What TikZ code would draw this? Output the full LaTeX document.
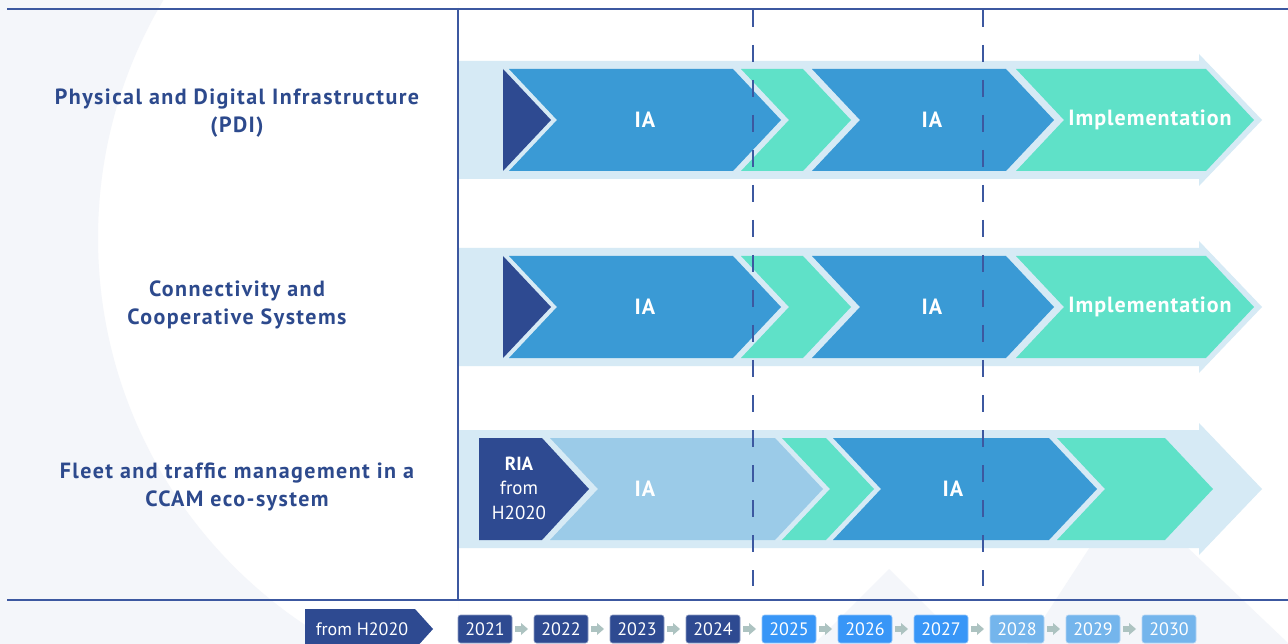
\documentclass[tikz,border=0pt]{standalone}
\usepackage{fontspec}
\setmainfont{PT Sans}
\definecolor{navy}{HTML}{2E4A91}
\definecolor{iablue}{HTML}{3A9AD5}
\definecolor{mint}{HTML}{5FE1C8}
\definecolor{band}{HTML}{D6EAF5}
\definecolor{ialight}{HTML}{9BCBE8}
\definecolor{titlec}{HTML}{2D4A8D}
\definecolor{axis}{HTML}{3C58A0}
\definecolor{ybright}{HTML}{3896F7}
\definecolor{ypale}{HTML}{74B5EC}
\definecolor{garrow}{HTML}{ADC3C1}
\definecolor{bgc}{HTML}{F4F6FA}
\newcommand\mychev[5]{\fill[#5] (#1,#4-51) -- (#2,#4-51) -- (#2+48,#4) -- (#2,#4+51) -- (#1,#4+51) -- (#1+48,#4) -- cycle;}
\newcommand\myband[1]{\fill[band] (458,#1-59) -- (1199,#1-59) -- (1199,#1-66) -- (1262,#1) -- (1199,#1+66) -- (1199,#1+59) -- (458,#1+59) -- cycle;}
\begin{document}
\begin{tikzpicture}[x=1pt,y=-1pt,
  lbl/.style={text=white,font=\bfseries\fontsize{22}{24}\selectfont\addfontfeature{LetterSpace=4.5},inner sep=0pt},
  ttl/.style={text=titlec,font=\bfseries\fontsize{22}{28}\selectfont\addfontfeature{LetterSpace=6.5},align=center},
  yr/.style={minimum width=54pt,minimum height=28pt,rounded corners=2.5pt,inner sep=0pt,text=white,font=\fontsize{18}{20}\selectfont,draw=#1!55!white,fill=#1,line width=0.6pt},
  ga/.style={fill=garrow},
  axisline/.style={draw=axis,line width=1.2pt},
  dashline/.style={draw=axis,line width=1.6pt,dash pattern=on 17pt off 18pt}
]
\useasboundingbox (0,0) rectangle (1288,644);
\fill[white] (0,0) rectangle (1288,644);
% background crescent
\begin{scope}
\clip (0,0) rectangle (458,644);
\fill[bgc,even odd rule] (0,0) rectangle (458,644) (563,238) circle (465pt);
\end{scope}
\fill[bgc] (814,644) -- (889,569) -- (964,644) -- cycle;
\fill[bgc] (1027,644) -- (1127,490) -- (1288,643) -- (1288,644) -- cycle;

% bands
\myband{120}
\myband{307}
\myband{489}

% row 1
\fill[navy] (503,69) -- (551,120) -- (503,171) -- cycle;
\mychev{509}{733}{0}{120}{iablue}
\mychev{741}{803}{0}{120}{mint}
\mychev{812}{1006}{0}{120}{iablue}
\mychev{1016}{1206}{0}{120}{mint}
% row 2
\fill[navy] (503,256) -- (551,307) -- (503,358) -- cycle;
\mychev{509}{733}{0}{307}{iablue}
\mychev{741}{803}{0}{307}{mint}
\mychev{812}{1006}{0}{307}{iablue}
\mychev{1016}{1206}{0}{307}{mint}
% row 3
\fill[navy] (479,438) -- (542,438) -- (589,489) -- (542,540) -- (479,540) -- cycle;
\mychev{550}{775}{0}{489}{ialight}
\mychev{782}{826}{0}{489}{mint}
\mychev{833}{1049}{0}{489}{iablue}
\mychev{1057}{1165}{0}{489}{mint}

% labels in chevrons
\node[lbl] (ia11) at (645,120) {IA};
\node[lbl] (ia12) at (932,120) {IA};
\node[lbl] (imp1) at (1150,120) {Implementation};
\node[lbl] (ia21) at (645,307) {IA};
\node[lbl] (ia22) at (932,307) {IA};
\node[lbl] (imp2) at (1150,307) {Implementation};
\node[lbl] (ia31) at (645,489) {IA};
\node[lbl] (ia32) at (953,489) {IA};
\node[text=white,align=center,inner sep=0pt,font=\fontsize{19}{24.5}\selectfont] (ria) at (519,488) {\textbf{RIA}\\from\\H2020};

% titles
\node[ttl] (t1) at (237,113) {Physical and Digital Infrastructure\\(PDI)};
\node[ttl] (t2) at (237,305) {Connectivity and\\Cooperative Systems};
\node[ttl] (t3) at (237,487) {Fleet and traffic management in a\\CCAM eco-system};

% axes
\draw[axisline] (7,9) -- (1288,9);
\draw[axisline] (7,600) -- (1288,600);
\draw[axisline] (458,9) -- (458,600);
\coordinate (d1t) at (753,10);
\coordinate (d1b) at (753,586);
\coordinate (d2t) at (983,10);
\coordinate (d2b) at (983,586);
\draw[dashline] (d1t) -- (d1b);
\draw[dashline] (d2t) -- (d2b);

% timeline
\fill[navy] (305,609) -- (415,609) -- (433,629) -- (415,649) -- (305,649) -- cycle;
\node[text=white,font=\fontsize{18}{20}\selectfont,inner sep=0pt] (fromh) at (362,629) {from H2020};
\foreach \y/\c [count=\i from 0] in {2021/navy,2022/navy,2023/navy,2024/navy,2025/ybright,2026/ybright,2027/ybright,2028/ypale,2029/ypale,2030/ypale}{
  \node[yr=\c] (y\y) at (485+76*\i,629) {\y};
}
\foreach \i in {0,...,8}{
  \fill[ga] (515+76*\i,626) rectangle (522+76*\i,632);
  \fill[ga] (521+76*\i,623) -- (528+76*\i,629) -- (521+76*\i,635) -- cycle;
}
\end{tikzpicture}
\end{document}
